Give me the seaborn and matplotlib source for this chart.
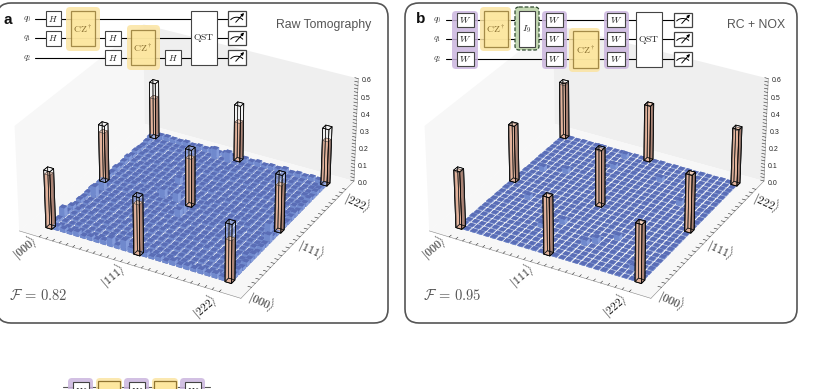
import matplotlib
matplotlib.use('Agg')
import matplotlib.pyplot as plt
import numpy as np
import seaborn as sns
from matplotlib.patches import Arc, FancyBboxPatch, Rectangle

# density matrix magnitudes, in thousandths; rows are x basis states, columns y
RAW_MATRIX = [
    [310, 22, 14, 55, 16, 25, 12, 20, 15, 19, 24, 14, 17, 290, 21, 16, 23, 13, 19, 26, 15, 22, 18, 14, 20, 27, 240],
    [24, 6, 8, 5, 9, 13, 7, 10, 6, 65, 7, 60, 8, 9, 6, 10, 7, 8, 5, 10, 7, 11, 6, 9, 8, 6, 24],
    [20, 8, 5, 9, 7, 7, 11, 6, 8, 7, 8, 9, 6, 10, 7, 9, 6, 8, 11, 5, 8, 7, 10, 7, 6, 9, 26],
    [16, 6, 10, 7, 6, 10, 5, 8, 11, 7, 9, 7, 7, 8, 10, 6, 9, 7, 8, 10, 6, 7, 5, 9, 8, 7, 22],
    [27, 9, 7, 8, 10, 6, 9, 7, 6, 10, 8, 5, 11, 7, 12, 8, 6, 9, 7, 6, 11, 8, 7, 5, 10, 8, 20],
    [14, 10, 6, 8, 5, 9, 7, 11, 8, 6, 7, 10, 6, 9, 5, 11, 8, 7, 10, 8, 6, 9, 7, 6, 9, 11, 25],
    [22, 7, 9, 6, 12, 8, 6, 5, 9, 10, 7, 8, 7, 11, 9, 6, 7, 10, 6, 8, 11, 5, 9, 7, 8, 6, 18],
    [18, 8, 5, 11, 7, 6, 10, 8, 6, 7, 11, 6, 9, 8, 7, 10, 6, 9, 8, 7, 5, 10, 6, 11, 7, 8, 23],
    [25, 6, 10, 7, 8, 11, 5, 9, 7, 11, 6, 8, 10, 6, 13, 7, 9, 6, 5, 8, 10, 7, 8, 6, 9, 6, 19],
    [50, 9, 6, 6, 8, 6, 11, 7, 10, 5, 8, 7, 10, 55, 6, 9, 11, 40, 7, 6, 9, 6, 8, 10, 7, 8, 28],
    [20, 7, 8, 11, 6, 9, 7, 6, 8, 10, 7, 9, 12, 8, 8, 6, 5, 10, 7, 11, 8, 6, 7, 9, 6, 60, 17],
    [60, 6, 7, 8, 10, 5, 8, 10, 6, 7, 9, 6, 11, 55, 8, 11, 9, 6, 8, 7, 5, 10, 7, 9, 7, 6, 26],
    [28, 10, 7, 6, 7, 11, 6, 9, 5, 8, 11, 8, 7, 8, 6, 10, 7, 6, 10, 9, 7, 8, 11, 5, 7, 60, 20],
    [290, 8, 7, 10, 6, 8, 12, 6, 10, 7, 45, 50, 8, 280, 8, 11, 6, 9, 7, 5, 10, 7, 8, 11, 6, 9, 230],
    [24, 7, 11, 6, 9, 5, 7, 10, 8, 11, 6, 8, 10, 7, 7, 9, 5, 12, 6, 8, 11, 7, 6, 10, 8, 7, 24],
    [15, 10, 6, 9, 7, 12, 6, 5, 11, 7, 9, 10, 6, 9, 13, 6, 8, 7, 10, 7, 5, 11, 9, 6, 8, 10, 18],
    [22, 7, 9, 7, 5, 8, 10, 8, 6, 10, 7, 6, 11, 7, 8, 11, 6, 8, 5, 9, 7, 7, 10, 6, 9, 6, 25],
    [13, 9, 6, 11, 8, 6, 7, 11, 9, 5, 10, 7, 8, 10, 6, 7, 13, 6, 9, 8, 6, 11, 5, 8, 7, 10, 17],
    [26, 6, 8, 7, 10, 7, 11, 6, 5, 8, 12, 8, 6, 9, 10, 7, 7, 9, 6, 5, 11, 8, 10, 7, 7, 6, 23],
    [16, 11, 7, 5, 9, 6, 8, 10, 7, 6, 7, 10, 8, 6, 11, 7, 5, 9, 11, 7, 8, 6, 9, 10, 6, 8, 19],
    [22, 7, 6, 10, 6, 12, 7, 8, 11, 8, 5, 7, 10, 9, 6, 8, 10, 7, 8, 11, 6, 7, 5, 9, 11, 7, 28],
    [18, 5, 10, 8, 7, 7, 9, 6, 9, 11, 8, 6, 7, 11, 7, 10, 6, 8, 6, 9, 7, 10, 8, 6, 7, 10, 16],
    [24, 8, 7, 14, 6, 9, 5, 11, 7, 7, 10, 6, 13, 8, 9, 6, 7, 11, 5, 8, 7, 8, 11, 6, 10, 7, 22],
    [19, 7, 8, 6, 10, 7, 11, 6, 9, 8, 5, 11, 7, 7, 9, 6, 10, 8, 7, 10, 6, 5, 8, 9, 7, 11, 18],
    [26, 9, 11, 7, 6, 10, 6, 8, 7, 10, 8, 7, 8, 8, 6, 10, 7, 5, 11, 8, 6, 9, 7, 10, 6, 8, 24],
    [20, 14, 6, 12, 9, 7, 13, 7, 11, 8, 10, 14, 60, 10, 13, 7, 9, 11, 7, 13, 9, 6, 12, 8, 10, 7, 20],
    [240, 24, 30, 18, 26, 21, 28, 16, 25, 20, 50, 22, 19, 270, 24, 18, 26, 29, 17, 23, 20, 28, 16, 25, 21, 27, 260],
]

NOX_MATRIX = [
    [325, 5, 3, 6, 3, 5, 4, 6, 3, 5, 3, 6, 4, 330, 5, 3, 6, 3, 5, 4, 6, 3, 5, 3, 5, 4, 320],
    [5, 2, 3, 2, 4, 3, 5, 2, 3, 2, 4, 3, 4, 2, 3, 5, 2, 3, 4, 2, 4, 3, 2, 5, 3, 2, 5],
    [3, 4, 2, 4, 2, 3, 2, 3, 5, 4, 2, 3, 2, 4, 3, 2, 4, 30, 2, 3, 5, 2, 4, 2, 3, 4, 3],
    [6, 2, 3, 3, 4, 2, 4, 2, 3, 3, 2, 4, 3, 2, 5, 3, 2, 3, 3, 4, 2, 4, 2, 3, 2, 3, 6],
    [3, 3, 4, 2, 3, 5, 2, 4, 2, 4, 28, 2, 3, 4, 2, 3, 4, 2, 5, 2, 3, 3, 4, 2, 4, 2, 4],
    [5, 3, 2, 3, 2, 2, 4, 3, 3, 2, 3, 4, 2, 3, 5, 2, 3, 4, 30, 4, 3, 2, 3, 5, 2, 3, 5],
    [2, 4, 3, 2, 5, 3, 2, 4, 2, 3, 3, 2, 4, 2, 3, 4, 2, 3, 3, 2, 4, 3, 2, 3, 3, 32, 6],
    [4, 2, 4, 3, 2, 4, 3, 2, 3, 5, 2, 3, 2, 4, 3, 2, 4, 3, 2, 5, 2, 3, 4, 3, 2, 4, 3],
    [5, 3, 2, 3, 4, 2, 5, 2, 3, 2, 4, 3, 2, 3, 4, 2, 3, 2, 4, 3, 2, 4, 2, 3, 5, 3, 3],
    [3, 4, 3, 5, 2, 26, 3, 2, 4, 2, 3, 3, 4, 2, 2, 5, 3, 3, 2, 4, 4, 2, 3, 2, 3, 2, 5],
    [4, 2, 4, 2, 3, 4, 2, 3, 2, 4, 3, 2, 5, 3, 2, 2, 4, 3, 4, 2, 2, 3, 28, 3, 3, 30, 3],
    [6, 3, 2, 4, 3, 2, 4, 30, 3, 2, 4, 5, 2, 3, 3, 4, 2, 2, 3, 3, 5, 2, 4, 2, 3, 3, 5],
    [3, 4, 2, 3, 2, 5, 3, 2, 4, 2, 3, 2, 4, 3, 2, 3, 5, 4, 2, 2, 3, 4, 2, 3, 4, 2, 3],
    [330, 2, 4, 2, 4, 3, 2, 3, 2, 5, 3, 4, 2, 325, 4, 2, 3, 3, 2, 4, 2, 3, 5, 2, 3, 4, 335],
    [5, 3, 3, 4, 2, 2, 4, 3, 5, 2, 3, 2, 4, 3, 2, 4, 2, 5, 3, 3, 2, 4, 2, 3, 4, 2, 4],
    [3, 2, 5, 3, 3, 4, 2, 2, 3, 3, 4, 2, 2, 5, 3, 3, 4, 2, 2, 4, 3, 2, 3, 4, 2, 3, 6],
    [5, 3, 2, 3, 32, 3, 3, 4, 2, 2, 4, 3, 3, 2, 4, 2, 3, 3, 5, 2, 2, 4, 3, 3, 2, 4, 3],
    [2, 4, 3, 2, 4, 36, 3, 2, 3, 5, 2, 3, 4, 2, 3, 4, 2, 3, 2, 3, 4, 3, 28, 2, 3, 3, 5],
    [4, 2, 2, 4, 3, 5, 2, 3, 3, 2, 3, 4, 2, 3, 2, 2, 5, 3, 4, 2, 4, 2, 3, 3, 2, 4, 3],
    [6, 3, 4, 2, 3, 2, 4, 30, 3, 2, 5, 2, 3, 3, 4, 2, 2, 4, 3, 3, 2, 2, 4, 3, 5, 2, 4],
    [3, 2, 3, 2, 5, 4, 2, 4, 2, 3, 2, 3, 4, 2, 3, 5, 3, 2, 4, 2, 3, 3, 2, 4, 2, 3, 2],
    [5, 4, 2, 3, 2, 3, 3, 2, 5, 2, 4, 3, 2, 4, 2, 3, 3, 3, 2, 4, 2, 5, 3, 2, 4, 2, 5],
    [3, 3, 2, 5, 3, 2, 4, 3, 2, 3, 2, 4, 2, 3, 5, 3, 2, 2, 30, 3, 4, 2, 3, 5, 2, 3, 4],
    [5, 2, 4, 5, 2, 2, 3, 3, 2, 4, 3, 2, 5, 2, 3, 2, 4, 4, 2, 3, 2, 3, 4, 2, 3, 4, 3],
    [3, 5, 26, 3, 30, 2, 3, 4, 3, 2, 2, 5, 3, 4, 2, 4, 3, 2, 3, 5, 3, 4, 2, 3, 2, 3, 5],
    [4, 2, 4, 2, 3, 4, 2, 5, 2, 3, 4, 3, 2, 2, 3, 2, 5, 4, 3, 2, 2, 3, 4, 3, 4, 2, 3],
    [330, 5, 3, 6, 4, 3, 6, 2, 5, 3, 5, 3, 4, 335, 3, 5, 3, 4, 6, 2, 5, 3, 3, 5, 4, 2, 325],
]

PEAK_INDEX = [0, 13, 26]
IDEAL_PEAK = 1 / 3
BASIS_LABELS = [r'$|000\rangle$', r'$|111\rangle$', r'$|222\rangle$']
Z_LABELS = ['0.0', '0.1', '0.2', '0.3', '0.4', '0.5', '0.6']

# label centres, in picture pixels, from the reference
X_LABEL_POS_A = [(25, 248), (113, 276), (205, 307)]
Y_LABEL_POS_A = [(262, 302), (312, 250), (358, 203)]
X_LABEL_POS_B = [(434, 248), (522, 276), (615, 306)]
Y_LABEL_POS_B = [(672, 301), (721, 250), (767, 203)]

# face colours of a bar: top, front-left face, front-right face
BLUE_FACES = ('#5a6db6', '#7089cd', '#849cdb')
PEAK_FACES = ('#f3c3a8', '#dc9e80', '#95604d')
PEAK_EDGE = '#33231f'
YELLOW_HALO = '#fbe4a2'
YELLOW_FILL = '#fde79f'
YELLOW_EDGE = '#8f7430'
PURPLE_HALO = '#cbb5de'
GREEN_HALO = '#c3d8b2'
TEXT_GREY = '#555555'

sns.set_theme(style='white', rc={'mathtext.fontset': 'cm'})
plt.rcParams['font.family'] = ['Liberation Sans', 'DejaVu Sans']


def face_list(top, left, right):
    # bar3d face order: -z, +z, -y, +y, -x, +x
    return [top, top, left, left, right, right]


def draw_density(fig, rect, matrix):
    ax = fig.add_axes(rect, projection='3d', computed_zorder=False, zorder=1)
    ax.set_facecolor('none')
    heights = np.array(matrix, dtype=float) / 1000
    n = heights.shape[0]
    xx, yy = np.meshgrid(np.arange(n), np.arange(n), indexing='ij')
    is_peak = np.isin(xx, PEAK_INDEX) & np.isin(yy, PEAK_INDEX)
    colors, edges = [], []
    for p in is_peak.ravel():
        colors += face_list(*(PEAK_FACES if p else BLUE_FACES))
        edges += [PEAK_EDGE if p else (0, 0, 0, 0)] * 6
    ax.bar3d(xx.ravel() + 0.12, yy.ravel() + 0.12, 0, 0.76, 0.76, heights.ravel(),
             color=colors, edgecolor=edges, linewidth=0.4, shade=False, zsort='max')
    # ideal peak height is the outlined transparent box
    ax.bar3d(xx[is_peak] + 0.05, yy[is_peak] + 0.05, 0, 0.9, 0.9, IDEAL_PEAK,
             color=(1, 1, 1, 0.12), edgecolor='black', linewidth=0.5, shade=False, zorder=5)

    # the floor is a little larger than the grid of bars
    ax.set_xlim(-2.5, 29.5)
    ax.set_ylim(-2.2, 28.9)
    ax.set_zlim(0, 0.6)
    ticks = np.arange(n) + 0.5
    ax.set_xticks(ticks, [''] * n)
    ax.set_yticks(ticks, [''] * n)
    ax.set_zticks(np.arange(31) * 0.02,
                  [Z_LABELS[i // 5] if i % 5 == 0 else '' for i in range(31)])
    ax.tick_params(axis='z', labelsize=5, pad=-4)
    for axis, pane in zip((ax.xaxis, ax.yaxis, ax.zaxis), ('#f7f7f7', '#efefef', '#f7f7f7')):
        axis.set_pane_color(pane)
        axis.pane.set_edgecolor('none')
        axis.line.set_color('#888888')
        axis.line.set_linewidth(0.4)
        axis._axinfo['tick']['inward_factor'] = 0
        axis._axinfo['tick']['outward_factor'] = 0.2
        axis._axinfo['tick']['linewidth'] = {True: 0.4, False: 0.4}
        axis._axinfo['tick']['color'] = '#333333'
    ax.grid(False)
    ax.view_init(elev=30, azim=-61)
    ax.set_box_aspect((1, 1, 0.48), zoom=0.861)
    return ax


def basis_labels(ax, x_pos, y_pos):
    for (x, y), label in zip(x_pos, BASIS_LABELS):
        ax.text(x, y, label, fontsize=8.5, rotation=40, ha='center', va='center', color='#222222')
    for (x, y), label in zip(y_pos, BASIS_LABELS):
        ax.text(x, y, label, fontsize=8.5, rotation=-25, ha='center', va='center', color='#222222')


def box(ax, x0, x1, y0, y1, fc='white', ec='#444444', lw=0.8, round_size=0, **kw):
    if round_size:
        patch = FancyBboxPatch((x0, y0), x1 - x0, y1 - y0,
                               boxstyle=f'round,pad=0,rounding_size={round_size}',
                               fc=fc, ec=ec, lw=lw, **kw)
    else:
        patch = Rectangle((x0, y0), x1 - x0, y1 - y0, fc=fc, ec=ec, lw=lw, **kw)
    ax.add_patch(patch)


def gate(ax, x0, x1, y0, y1, label, size=6.5, color='#222222'):
    box(ax, x0, x1, y0, y1)
    ax.text((x0 + x1) / 2, (y0 + y1) / 2, label, ha='center', va='center', fontsize=size, color=color)


def cz(ax, halo, inner):
    box(ax, *halo, fc=YELLOW_HALO, ec='none', lw=0, round_size=4, alpha=0.85)
    box(ax, *inner, fc=YELLOW_FILL, ec=YELLOW_EDGE, lw=0.9, alpha=0.8)
    ax.text((inner[0] + inner[1]) / 2, (inner[2] + inner[3]) / 2, r'$\mathrm{CZ}^\dagger$',
            ha='center', va='center', fontsize=7, color='#8a7030')


def meter(ax, x0, x1, y0, y1):
    box(ax, x0, x1, y0, y1, lw=0.9)
    cx, cy = (x0 + x1) / 2, (y0 + y1) / 2
    ax.add_patch(Arc((cx, cy + 4), 14, 10, theta1=200, theta2=340, lw=0.7, color='black'))
    ax.annotate('', xy=(x1 - 2, y0 + 2), xytext=(cx - 1, cy + 4),
                arrowprops=dict(arrowstyle='-|>', lw=0.7, color='black', mutation_scale=4,
                                shrinkA=0, shrinkB=0))


def draw_circuit_a(ax):
    wires = [18.5, 38, 57.5]
    for y, name in zip(wires, ['$q_0$', '$q_1$', '$q_2$']):
        ax.plot([35, 228], [y, y], color='black', lw=0.8, zorder=0)
        ax.text(27, y, name, ha='center', va='center', fontsize=6, color='#444444')
    gate(ax, 45.5, 61, 11, 26, '$H$')
    gate(ax, 45.5, 61, 30.5, 45.5, '$H$')
    cz(ax, (66, 100, 7, 51), (71, 95, 10.5, 46))
    gate(ax, 105, 121, 30.5, 45.5, '$H$')
    gate(ax, 105, 121, 50, 65, '$H$')
    cz(ax, (127, 160, 25, 70), (131, 155, 30, 65))
    gate(ax, 165, 181, 50, 65, '$H$')
    gate(ax, 191, 217, 10.5, 65, r'$\mathrm{QST}$', size=7)
    for y in wires:
        meter(ax, 227.5, 246, y - 7.5, y + 7)


def draw_circuit_b(ax):
    wires = [19.5, 39, 59]
    for y, name in zip(wires, ['$q_0$', '$q_1$', '$q_2$']):
        ax.plot([446, 674], [y, y], color='black', lw=0.8, zorder=0)
        ax.text(437, y, name, ha='center', va='center', fontsize=6, color='#444444')
    for halo, w in [((452, 478), (457, 474)), ((542, 567), (546, 563)), ((604, 629), (607, 625))]:
        box(ax, *halo, 11, 69, fc=PURPLE_HALO, ec='none', lw=0, round_size=4, alpha=0.85)
        for y in wires:
            gate(ax, *w, y - 7, y + 7, '$W$', size=7)
    cz(ax, (480, 511, 7, 51), (484, 508, 11, 47))
    box(ax, 515, 539, 7, 50, fc=GREEN_HALO, ec='#2f4a2f', lw=0.9, round_size=4, ls=(0, (3, 1.5)))
    gate(ax, 519, 535, 11, 47, '$I_9$', size=7)
    cz(ax, (569, 600, 28, 72), (573, 598, 31, 68))
    gate(ax, 636, 662, 12, 67, r'$\mathrm{QST}$', size=7)
    for y in wires:
        meter(ax, 673.5, 692, y - 7, y + 7)


def draw_cut_circuit(ax):
    ax.plot([63, 210], [387, 387], color='#555555', lw=0.8, zorder=0)
    for x0 in (68, 124, 180):
        box(ax, x0, x0 + 25, 378, 395, fc=PURPLE_HALO, ec='none', lw=0, round_size=4, alpha=0.85)
        gate(ax, x0 + 5, x0 + 21, 382, 400, '$W$', size=7)
    for x0 in (96, 152):
        box(ax, x0, x0 + 26, 378, 395, fc=YELLOW_HALO, ec='none', lw=0, round_size=4, alpha=0.85)
        box(ax, x0 + 2, x0 + 24, 381, 400, fc=YELLOW_FILL, ec=YELLOW_EDGE, lw=0.9)


def main():
    fig = plt.figure(figsize=(8.31, 3.89), dpi=100)
    w, h = 831, 389

    bg = fig.add_axes([0, 0, 1, 1], zorder=0)
    bg.set_xlim(0, w)
    bg.set_ylim(h, 0)
    bg.axis('off')
    box(bg, -3, 388, 3, 323, ec=TEXT_GREY, lw=1.2, round_size=14)
    box(bg, 405, 797, 3, 323, ec=TEXT_GREY, lw=1.2, round_size=14)

    # square boxes, so the 3D axes are not shrunk or clipped
    rect_a = [-26 / w, (h - 370) / h, 420 / w, 420 / h]
    rect_b = [384 / w, (h - 370) / h, 420 / w, 420 / h]
    draw_density(fig, rect_a, RAW_MATRIX)
    draw_density(fig, rect_b, NOX_MATRIX)

    fg = fig.add_axes([0, 0, 1, 1], zorder=2)
    fg.set_xlim(0, w)
    fg.set_ylim(h, 0)
    fg.axis('off')
    fg.patch.set_alpha(0)
    draw_circuit_a(fg)
    draw_circuit_b(fg)
    draw_cut_circuit(fg)
    basis_labels(fg, X_LABEL_POS_A, Y_LABEL_POS_A)
    basis_labels(fg, X_LABEL_POS_B, Y_LABEL_POS_B)

    fg.text(3, 20, 'a', fontsize=11, fontweight='bold', va='center', color='#111111')
    fg.text(416, 19, 'b', fontsize=11, fontweight='bold', va='center', color='#111111')
    fg.text(371, 25, 'Raw Tomography', fontsize=8.8, ha='right', va='center', color=TEXT_GREY)
    fg.text(785, 25, 'RC + NOX', fontsize=8.8, ha='right', va='center', color=TEXT_GREY)
    fg.text(9, 295, r'$\mathcal{F}\,=\,0.82$', fontsize=10.5, va='center', color=TEXT_GREY)
    fg.text(423, 295, r'$\mathcal{F}\,=\,0.95$', fontsize=10.5, va='center', color=TEXT_GREY)

    fig.savefig('out.png', dpi=100)


if __name__ == '__main__':
    main()
